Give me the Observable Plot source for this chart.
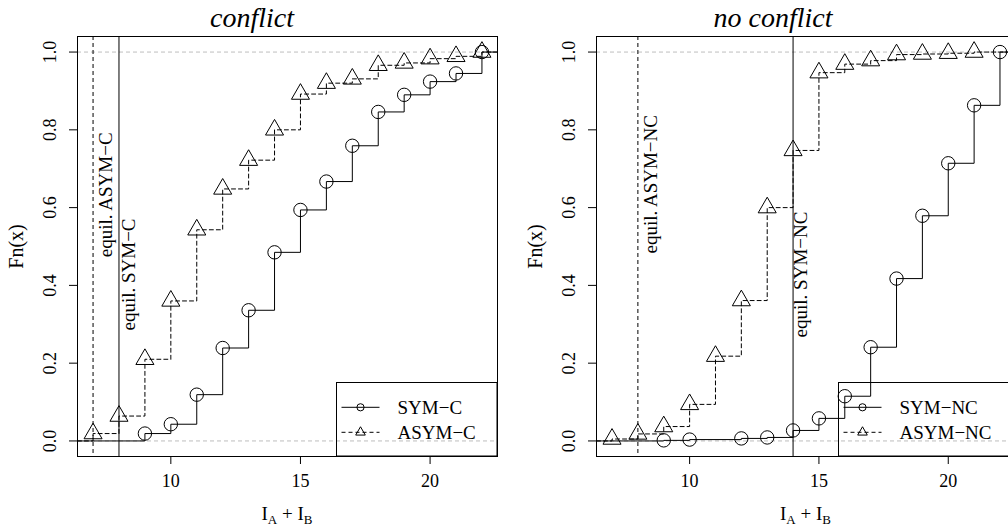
<!DOCTYPE html>
<html><head><meta charset="utf-8">
<script src="https://cdn.jsdelivr.net/npm/d3@7"></script>
<script src="https://cdn.jsdelivr.net/npm/@observablehq/plot@0.6"></script>
<style>
html,body{margin:0;padding:0;background:#fff;overflow:hidden;width:1008px;height:532px}
#wrap{position:relative;width:1008px;height:532px;overflow:hidden}
.panel{position:absolute;top:0}
.panel text{font-family:"Liberation Serif","DejaVu Serif",serif}
</style>
</head><body>
<div id="wrap"></div>
<script>
// ---- data ----
const xDomain = [6.4, 22.6];
const yDomain = [-0.04, 1.04];
const xTicks = [10, 15, 20];
const yTicks = [0, 0.2, 0.4, 0.6, 0.8, 1.0];

// conflict
const symC_x  = [9, 10, 11, 12, 13, 14, 15, 16, 17, 18, 19, 20, 21, 22];
const symC_F  = [0.019, 0.043, 0.119, 0.239, 0.336, 0.485, 0.594, 0.667, 0.759, 0.846, 0.890, 0.924, 0.945, 1.0];
const asymC_x = [7, 8, 9, 10, 11, 12, 13, 14, 15, 16, 17, 18, 19, 20, 21, 22];
const asymC_F = [0.019, 0.064, 0.210, 0.360, 0.543, 0.648, 0.722, 0.800, 0.892, 0.920, 0.931, 0.966, 0.972, 0.983, 0.989, 1.0];
const equilC = [7, 8];            // ASYM-C, SYM-C equilibria
const equilC_labels = ["equil. ASYM\u2212C", "equil. SYM\u2212C"];
const equilC_labelX = [7.5, 8.4];
const equilC_labelY = [0.633, 0.428];

// no conflict
const symNC_x  = [9, 10, 12, 13, 14, 15, 16, 17, 18, 19, 20, 21, 22];
const symNC_F  = [0.0015, 0.0035, 0.0065, 0.009, 0.027, 0.058, 0.115, 0.241, 0.4175, 0.579, 0.714, 0.863, 1.0];
const asymNC_x = [7, 8, 9, 10, 11, 12, 13, 14, 15, 16, 17, 18, 19, 20, 21];
const asymNC_F = [0.005, 0.018, 0.037, 0.094, 0.218, 0.361, 0.600, 0.747, 0.947, 0.969, 0.978, 0.9935, 0.995, 0.997, 1.0];
const equilNC = [8, 14];
const equilNC_labels = ["equil. ASYM\u2212NC", "equil. SYM\u2212NC"];
const equilNC_labelX = [8.5, 14.3];
const equilNC_labelY = [0.66, 0.428];

// ---- drawing ----
const FONT = '"Liberation Serif", "DejaVu Serif", serif';
const fmt = d3.format(".1f");

function stepPts(xs, Fs) {
  const pts = [{x: xDomain[0], y: 0}];
  xs.forEach((x, i) => pts.push({x, y: Fs[i]}));
  pts.push({x: xDomain[1], y: Fs[Fs.length - 1]});
  return pts;
}

function panel(opts) {
  const {left, width, mL, mR, title, titleX, symX, symF, asymX, asymF,
         equil, eqLabels, eqLX, eqLY, legNames, legBox} = opts;
  const symPts = symX.map((x, i) => ({x, y: symF[i]}));
  const asymPts = asymX.map((x, i) => ({x, y: asymF[i]}));
  const labels = eqLabels.map((t, i) => ({t, x: eqLX[i], y: eqLY[i]}));
  const chart = Plot.plot({
    width, height: 532,
    marginLeft: mL, marginRight: mR, marginTop: 36, marginBottom: 76,
    style: {fontFamily: FONT, background: "transparent", overflow: "visible"},
    x: {domain: xDomain},
    y: {domain: yDomain},
    marks: [
      Plot.ruleY([0, 1], {stroke: "#bebebe", strokeDasharray: "4,3", strokeWidth: 1}),
      Plot.ruleX([equil[0]], {stroke: "#000", strokeDasharray: "4,3", strokeWidth: 1}),
      Plot.ruleX([equil[1]], {stroke: "#000", strokeWidth: 1}),
      Plot.line(stepPts(symX, symF), {x: "x", y: "y", curve: "step-after", stroke: "#000", strokeWidth: 1}),
      Plot.line(stepPts(asymX, asymF), {x: "x", y: "y", curve: "step-after", stroke: "#000", strokeWidth: 1, strokeDasharray: "4,3"}),
      Plot.dot(symPts, {x: "x", y: "y", r: 6.7, symbol: "circle", stroke: "#000", fill: "none", strokeWidth: 1}),
      Plot.dot(asymPts, {x: "x", y: "y", r: 6.7, symbol: "triangle", stroke: "#000", fill: "none", strokeWidth: 1}),
      Plot.text(labels, {x: "x", y: "y", text: "t", rotate: -90, fontSize: 19, fill: "#000", lineAnchor: "middle", textAnchor: "middle", fontFamily: FONT}),
      Plot.frame({stroke: "#000", strokeWidth: 1}),
      Plot.axisX({ticks: xTicks, tickSize: 8, tickPadding: 10, fontSize: 18, label: null, tickFormat: d3.format("d"), stroke: "#000", color: "#000", fontFamily: FONT}),
      Plot.axisY({ticks: yTicks, tickSize: 8, tickFormat: () => "", label: null, stroke: "#000"}),
      Plot.text(yTicks, {y: d => d, text: d => fmt(d), frameAnchor: "left", dx: -27, rotate: -90, fontSize: 18, lineAnchor: "middle", textAnchor: "middle", fill: "#000", fontFamily: FONT}),
      Plot.text(["Fn(x)"], {text: d => d, frameAnchor: "left", dx: -61, rotate: -90, fontSize: 20, lineAnchor: "middle", textAnchor: "middle", fill: "#000", fontFamily: FONT})
    ]
  });
  chart.classList.add("panel");
  chart.style.left = left + "px";
  const svg = d3.select(chart);
  // title
  svg.append("text").attr("x", titleX).attr("y", 27).attr("text-anchor", "middle")
    .attr("font-family", FONT).attr("font-style", "italic").attr("font-size", 28).attr("fill", "#000").text(title);
  // x label  I_A + I_B
  const cx = mL + (width - mL - mR) / 2;
  const xl = svg.append("text").attr("x", cx).attr("y", 520).attr("text-anchor", "middle")
    .attr("font-family", FONT).attr("font-size", 19).attr("fill", "#000");
  xl.append("tspan").text("I");
  xl.append("tspan").attr("font-size", 13).attr("dy", 4).text("A");
  xl.append("tspan").attr("dy", -4).text(" + I");
  xl.append("tspan").attr("font-size", 13).attr("dy", 4).text("B");
  // legend
  const g = svg.append("g").attr("text-anchor", "start");
  g.append("rect").attr("x", legBox[0]).attr("y", 382.5).attr("width", legBox[1]).attr("height", 73.5)
    .attr("fill", "none").attr("stroke", "#000").attr("stroke-width", 1);
  const rows = [407.3, 432.3];
  rows.forEach((ry, i) => {
    const lx = legBox[0];
    g.append("line").attr("x1", lx + 5).attr("x2", lx + 43).attr("y1", ry).attr("y2", ry)
      .attr("stroke", "#000").attr("stroke-width", 1).attr("stroke-dasharray", i ? "4,3" : null);
    if (i === 0) {
      g.append("circle").attr("cx", lx + 24).attr("cy", ry).attr("r", 3.6).attr("fill", "none").attr("stroke", "#000");
    } else {
      g.append("path").attr("transform", `translate(${lx + 24},${ry})`)
        .attr("d", d3.symbol(d3.symbolTriangle, 40)()).attr("fill", "none").attr("stroke", "#000");
    }
    g.append("text").attr("x", lx + 61).attr("y", ry + 6.5).attr("text-anchor", "start")
      .attr("font-family", FONT).attr("font-size", 19).attr("fill", "#000").text(legNames[i]);
  });
  document.getElementById("wrap").appendChild(chart);
}

panel({left: 0, width: 504, mL: 77, mR: 7, title: "conflict", titleX: 252,
  symX: symC_x, symF: symC_F, asymX: asymC_x, asymF: asymC_F,
  equil: equilC, eqLabels: equilC_labels, eqLX: equilC_labelX, eqLY: equilC_labelY,
  legNames: ["SYM\u2212C", "ASYM\u2212C"], legBox: [336.5, 160.5]});

panel({left: 504, width: 520, mL: 92, mR: 9, title: "no conflict", titleX: 269,
  symX: symNC_x, symF: symNC_F, asymX: asymNC_x, asymF: asymNC_F,
  equil: equilNC, eqLabels: equilNC_labels, eqLX: equilNC_labelX, eqLY: equilNC_labelY,
  legNames: ["SYM\u2212NC", "ASYM\u2212NC"], legBox: [334.5, 176.5]});
</script>
</body></html>
